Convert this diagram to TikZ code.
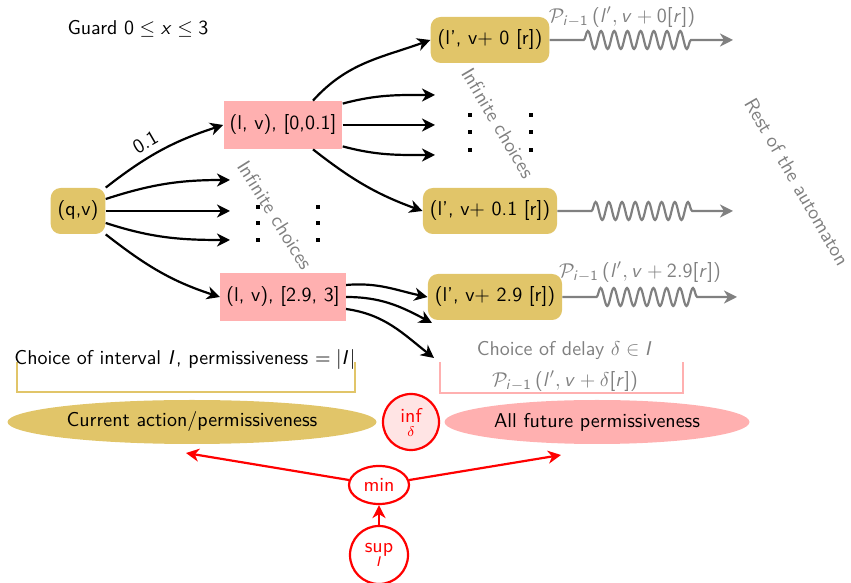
\documentclass[tikz,border=0pt]{standalone}
\usetikzlibrary{arrows.meta,decorations.pathmorphing,shapes.geometric}
\DeclareSymbolFont{sfitalic}{OT1}{cmss}{m}{sl}
\SetSymbolFont{operators}{normal}{OT1}{cmss}{m}{n}
\DeclareMathSymbol{x}{\mathalpha}{sfitalic}{`x}
\DeclareMathSymbol{I}{\mathalpha}{sfitalic}{`I}
\DeclareMathSymbol{l}{\mathalpha}{sfitalic}{`l}
\DeclareMathSymbol{v}{\mathalpha}{sfitalic}{`v}
\DeclareMathSymbol{r}{\mathalpha}{sfitalic}{`r}
\DeclareMathSymbol{i}{\mathalpha}{sfitalic}{`i}
\definecolor{gold}{RGB}{225,197,105}
\definecolor{pinkf}{RGB}{255,176,176}
\definecolor{infill}{RGB}{255,228,228}
\definecolor{greyt}{RGB}{128,128,128}
\begin{document}
\begin{tikzpicture}[x=0.5pt,y=0.5pt,font=\sffamily,
  goldbox/.style={draw=none,fill=gold,rounded corners=5pt,minimum height=23pt,inner xsep=3.5pt},
  pinkbox/.style={draw=none,fill=pinkf,minimum height=24pt,inner xsep=3pt},
  arr/.style={line width=1.1pt,-{Stealth[length=6.5pt,width=6.5pt,inset=2pt]}},
  redarr/.style={line width=1.1pt,red,-{Stealth[length=6.5pt,width=6.5pt,inset=2pt]}},
  wavy/.style={line width=1.1pt,greyt,-{Stealth[length=6.5pt,width=6.5pt,inset=2pt]},decorate,
    decoration={snake,amplitude=4.5pt,segment length=6.6pt,pre length=17pt,post length=19pt}},
  greytext/.style={text=greyt},
  bracketline/.style={line width=1.2pt},
  dotsq/.style={fill=black}]
\useasboundingbox (0,0) rectangle (851,583);

\node (guard) at (138,554) {Guard $0\leq x\leq 3$};

\node[goldbox] (qv) at (78,372) {(q,v)};
\node[pinkbox] (l1) at (283,458) {(l, v), [0,0.1]};
\node[pinkbox] (l2) at (283,286) {(l, v), [2.9, 3]};
\node[goldbox] (r1) at (490,543) {(l', v+ 0 [r])};
\node[goldbox] (r2) at (490,372) {(l', v+ 0.1 [r])};
\node[goldbox] (r3) at (495,286) {(l', v+ 2.9 [r])};

% free ends
\coordinate (q2) at (230,403);
\coordinate (q3) at (230,372);
\coordinate (q4) at (230,343);
\coordinate (m2) at (435,488);
\coordinate (m3) at (435,458);
\coordinate (m4) at (435,428);
\coordinate (n2) at (432,260);
\coordinate (n3) at (434,225);
\coordinate (w1) at (733,543);
\coordinate (w2) at (733,372);
\coordinate (w3) at (737,286);

% arrows from (q,v)
\draw[arr] (qv.north east) to[out=38,in=198] node[sloped,above,pos=0.42] {0.1} (l1.west);
\draw[arr] ([yshift=6pt]qv.east) to[out=18,in=180] (q2);
\draw[arr] (qv.east) -- (q3);
\draw[arr] ([yshift=-6pt]qv.east) to[out=-18,in=180] (q4);
\draw[arr] (qv.south east) to[out=-38,in=162] (l2.west);

% arrows from l1
\draw[arr] ([xshift=15pt]l1.north) to[out=48,in=200] (r1.west);
\draw[arr] ([yshift=-1.5pt]l1.north east) to[out=15,in=180] (m2);
\draw[arr] (l1.east) -- (m3);
\draw[arr] ([yshift=1.5pt]l1.south east) to[out=-15,in=180] (m4);
\draw[arr] ([xshift=15pt]l1.south) to[out=-38,in=160] (r2.west);

% arrows from l2
\draw[arr] ([yshift=6pt]l2.east) to[out=5,in=168] (r3.west);
\draw[arr] (l2.east) to[out=0,in=152] (n2);
\draw[arr] ([yshift=-6pt]l2.east) to[out=-8,in=142] (n3);

% wavy
\draw[wavy] (r1.east) -- (w1);
\draw[wavy] (r2.east) -- (w2);
\draw[wavy] (r3.east) -- (w3);
\node[greytext] (p1) at (622,566) {$\mathcal{P}_{i-1}\left(l', v+0[r]\right)$};
\node[greytext] (p2) at (640,311) {$\mathcal{P}_{i-1}\left(l', v+2.9[r]\right)$};

\node[greytext,rotate=-60] (rest) at (797,401) {Rest of the automaton};
\node[greytext,rotate=-58] (ic1) at (275,368) {Infinite choices};
\node[greytext,rotate=-59.5] (ic2) at (498,460) {Infinite choices};

% dots
\foreach \x in {258,318} \foreach \y in {376,360,343} {\fill[dotsq] (\x-2,\y-2) rectangle (\x+2,\y+2);}
\foreach \x in {470,531} \foreach \y in {468,451,433} {\fill[dotsq] (\x-2,\y-2) rectangle (\x+2,\y+2);}

% brackets
\draw[bracketline,gold] (17,221) -- (17,191) -- (355,191) -- (355,221);
\node (choiceI) at (185,223) {Choice of interval $I$, permissiveness $=|I|$};
\draw[bracketline,pinkf] (440,221) -- (440,190) -- (683,190) -- (683,221);
\node[greytext] (choiceD) at (565,233) {Choice of delay $\delta\in I$};
\node[greytext] (pd) at (565,202) {$\mathcal{P}_{i-1}\left(l', v+\delta[r]\right)$};

% ellipses
\node[ellipse,fill=gold,minimum width=184.5pt,minimum height=22pt,inner sep=0pt] (cur) at (192,161) {Current action/permissiveness};
\node[ellipse,fill=pinkf,minimum width=152.5pt,minimum height=22pt,inner sep=0pt] (fut) at (597,161) {All future permissiveness};
\node[circle,draw=red,line width=1.1pt,fill=infill,text=red,minimum size=28pt,inner sep=0pt,align=center] (inf) at (411,161) {inf\\[-5pt]{\scriptsize$\delta$}};
\node[ellipse,draw=red,line width=1.1pt,fill=white,text=red,minimum width=30pt,minimum height=19pt,inner sep=0pt] (min) at (379,98) {min};
\node[circle,draw=red,line width=1.1pt,fill=white,text=red,minimum size=29pt,inner sep=0pt,align=center] (sup) at (379,28) {sup\\[-5pt]{\scriptsize$I$}};

\coordinate (cL) at (186,130);
\coordinate (cR) at (561,128);
\draw[redarr] (min) -- (cL);
\draw[redarr] (min) -- (cR);
\draw[redarr] (sup) -- (min);
\end{tikzpicture}
\end{document}
